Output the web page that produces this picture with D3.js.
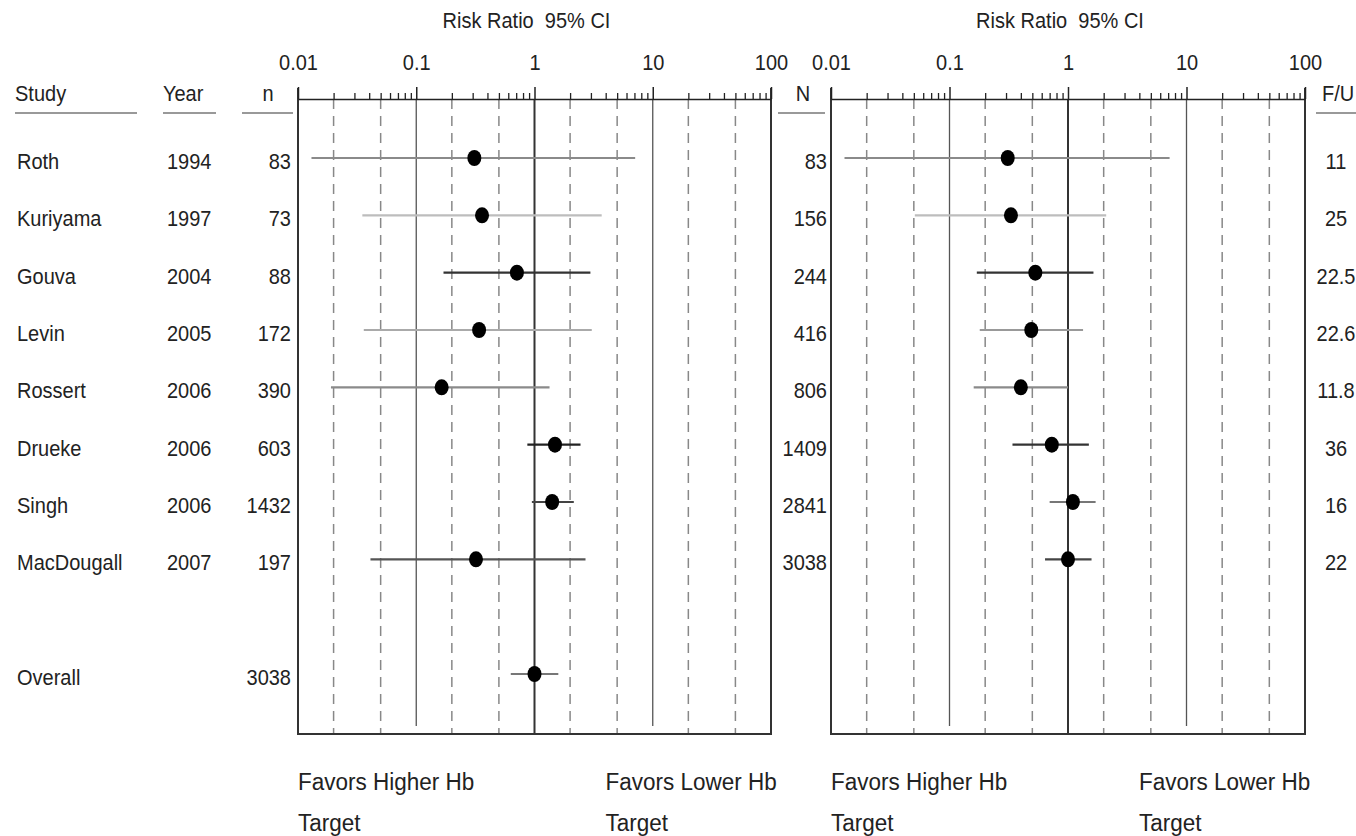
<!DOCTYPE html>
<html lang="en">
<head>
  <meta charset="UTF-8">
  <title>Forest plot - Risk Ratio by study, individual and cumulative</title>
  <script src="https://d3js.org/d3.v7.min.js"></script>
  <style>
    html, body {
      margin: 0;
      padding: 0;
      background: #fff;
    }
    svg text {
      font-family: "Liberation Sans", Arial, sans-serif;
      fill: #222;
    }
  </style>
</head>
<body>
  <div id="chart"></div>
  <script>
    // Study table
    var studies = ["Roth", "Kuriyama", "Gouva", "Levin", "Rossert", "Drueke", "Singh", "MacDougall"];
    var years = ["1994", "1997", "2004", "2005", "2006", "2006", "2006", "2007"];
    var nSizes = ["83", "73", "88", "172", "390", "603", "1432", "197"];
    var overallN = "3038";

    // Left panel: each study on its own
    var rrLeft = [0.31, 0.36, 0.71, 0.34, 0.164, 1.49, 1.41, 0.32];
    var loLeft = [0.013, 0.035, 0.17, 0.036, 0.019, 0.87, 0.95, 0.041];
    var hiLeft = [7.1, 3.7, 2.97, 3.05, 1.34, 2.45, 2.15, 2.7];
    var overallRR = 1.0, overallLo = 0.63, overallHi = 1.59;

    // Right panel: cumulative
    var cumN = ["83", "156", "244", "416", "806", "1409", "2841", "3038"];
    var rrRight = [0.31, 0.33, 0.53, 0.49, 0.40, 0.73, 1.10, 1.00];
    var loRight = [0.013, 0.051, 0.17, 0.18, 0.16, 0.34, 0.70, 0.64];
    var hiRight = [7.2, 2.1, 1.64, 1.34, 1.0, 1.5, 1.71, 1.58];
    var followUp = ["11", "25", "22.5", "22.6", "11.8", "36", "16", "22"];

    // Axis
    var majorTicks = [0.01, 0.1, 1, 10, 100];
    var tickLabels = ["0.01", "0.1", "1", "10", "100"];
    var dashedRefs = [0.02, 0.05, 0.2, 0.5, 2, 5, 20, 50];
    var solidRefs = [0.1, 10];

    // line shades, as printed
    var leftShade = ["#8a8a8a", "#bdbdbd", "#333", "#aaa", "#8a8a8a", "#222", "#444", "#555"];
    var rightShade = ["#8a8a8a", "#bdbdbd", "#333", "#999", "#8a8a8a", "#333", "#777", "#444"];

    var width = 1356, height = 836;
    var axisY = 99, boxBottom = 734;
    var stretch = 1.1; // the print is a little taller than plain Arial

    var svg = d3.select("#chart").append("svg")
      .attr("width", width)
      .attr("height", height);

    svg.append("rect").attr("width", width).attr("height", height).attr("fill", "#fff");

    // row positions (Overall sits two rows below the last study)
    var y = d3.scaleLinear().domain([0, 9]).range([158, 674]);

    function label(parent, x, yy, str, size, anchor) {
      return parent.append("text")
        .attr("transform", "translate(" + x + "," + yy + ") scale(1," + stretch + ")")
        .attr("font-size", size)
        .attr("text-anchor", anchor || "start")
        .text(str);
    }

    function textRow(x, i, str, anchor) {
      label(svg, x, y(i) + 11, str, 20, anchor);
    }

    function header(x, str, anchor, x1, x2) {
      label(svg, x, 101, str, 20, anchor);
      svg.append("line")
        .attr("x1", x1).attr("x2", x2)
        .attr("y1", 113).attr("y2", 113)
        .attr("stroke", "#999").attr("stroke-width", 2);
    }

    function drawPanel(x0, x1, rr, lo, hi, shade, withOverall) {
      var x = d3.scaleLog().domain([0.01, 100]).range([x0, x1]);
      var g = svg.append("g");

      // reference lines
      g.selectAll(".dash").data(dashedRefs).enter().append("line")
        .attr("x1", d => x(d)).attr("x2", d => x(d))
        .attr("y1", axisY).attr("y2", boxBottom)
        .attr("stroke", "#888").attr("stroke-width", 1.5)
        .attr("stroke-dasharray", "10,7");

      g.selectAll(".solid").data(solidRefs).enter().append("line")
        .attr("x1", d => x(d)).attr("x2", d => x(d))
        .attr("y1", axisY).attr("y2", boxBottom - 8)
        .attr("stroke", "#555").attr("stroke-width", 1.3);

      g.append("line")
        .attr("x1", x(1)).attr("x2", x(1))
        .attr("y1", axisY).attr("y2", boxBottom)
        .attr("stroke", "#333").attr("stroke-width", 2);

      // box sides and bottom
      g.append("path")
        .attr("d", "M" + x0 + "," + (axisY - 11) + "V" + boxBottom + "H" + x1 + "V" + (axisY - 11))
        .attr("fill", "none").attr("stroke", "#333").attr("stroke-width", 2);

      // top axis, major + minor ticks
      var minor = x.ticks().filter(d => majorTicks.indexOf(d) < 0);
      g.append("g")
        .attr("transform", "translate(0," + axisY + ")")
        .call(d3.axisTop(x).tickValues(minor).tickSize(6).tickSizeOuter(0).tickFormat(""))
        .call(a => a.selectAll("line").attr("stroke", "#222").attr("stroke-width", 1.3))
        .call(a => a.select(".domain").attr("stroke", "#222").attr("stroke-width", 1.5));

      g.append("g")
        .attr("transform", "translate(0," + axisY + ")")
        .call(d3.axisTop(x).tickValues(majorTicks).tickSize(12).tickSizeOuter(0).tickPadding(14)
          .tickFormat((d, i) => tickLabels[i]))
        .call(a => a.select(".domain").remove())
        .call(a => a.selectAll("line").attr("stroke", "#222").attr("stroke-width", 1.5))
        .call(a => a.selectAll("text").attr("font-size", 20).attr("fill", "#222")
          .attr("transform", "scale(1," + stretch + ")")
          .attr("font-family", "'Liberation Sans', Arial, sans-serif"));

      // title
      label(g, (x0 + x1) / 2 - 8, 28, "Risk Ratio  95% CI", 20, "middle")
        .attr("xml:space", "preserve");

      // confidence intervals and estimates
      var rows = rr.map((d, i) => ({ i: i, rr: d, lo: lo[i], hi: hi[i], c: shade[i] }));
      if (withOverall) rows.push({ i: 9, rr: overallRR, lo: overallLo, hi: overallHi, c: "#777" });

      g.selectAll(".ci").data(rows).enter().append("line")
        .attr("x1", d => x(d.lo)).attr("x2", d => x(d.hi))
        .attr("y1", d => y(d.i)).attr("y2", d => y(d.i))
        .attr("stroke", d => d.c).attr("stroke-width", 2.2);

      g.selectAll(".pt").data(rows).enter().append("ellipse")
        .attr("cx", d => x(d.rr)).attr("cy", d => y(d.i))
        .attr("rx", 7).attr("ry", 8)
        .attr("fill", "#000");

      // favour labels
      [[x0, "Favors Higher Hb"], [x(1) + 0.6 * (x(10) - x(1)), "Favors Lower Hb"]].forEach(function(p) {
        label(g, p[0], 790, p[1], 22.5);
        label(g, p[0], 831, "Target", 22.5);
      });
    }

    // headers
    header(15, "Study", "start", 15, 137);
    header(163, "Year", "start", 163, 216);
    header(268, "n", "middle", 242, 293);
    header(803, "N", "middle", 778, 825);
    header(1322, "F/U", "start", 1316, 1356);

    studies.forEach(function(s, i) {
      textRow(17, i, s);
      textRow(167, i, years[i]);
      textRow(291, i, nSizes[i], "end");
      textRow(827, i, cumN[i], "end");
      textRow(1336, i, followUp[i], "middle");
    });
    textRow(17, 9, "Overall");
    textRow(291, 9, overallN, "end");

    drawPanel(298, 771, rrLeft, loLeft, hiLeft, leftShade, true);
    drawPanel(831, 1305, rrRight, loRight, hiRight, rightShade, false);
  </script>
</body>
</html>
